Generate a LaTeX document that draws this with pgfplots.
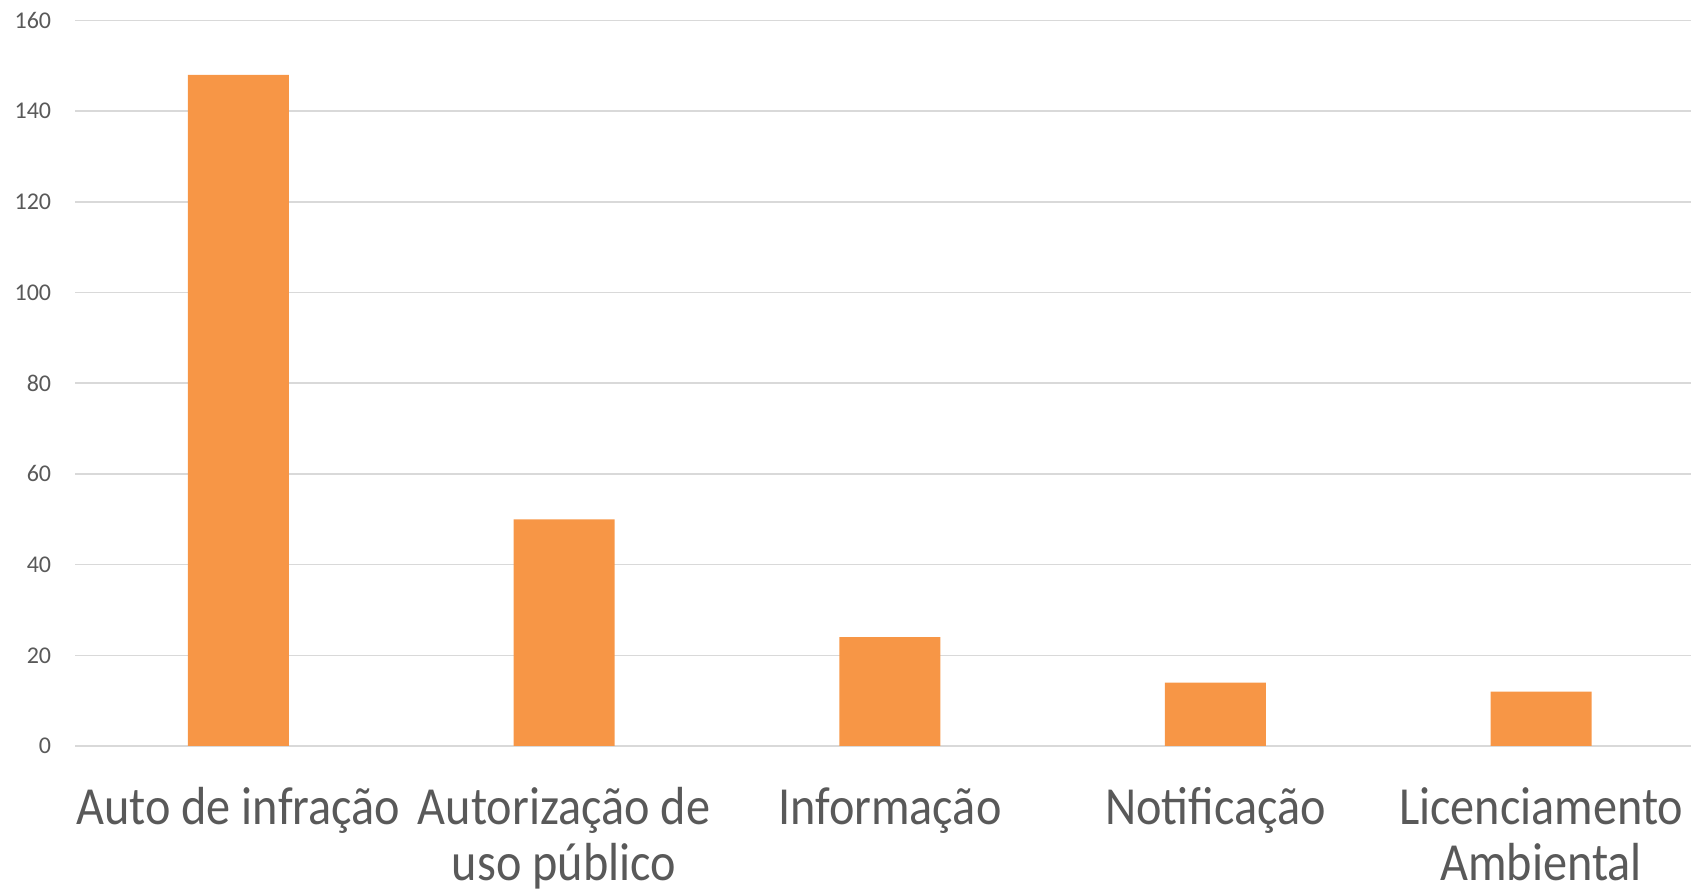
\documentclass[border=0pt]{standalone}
\usepackage{fontspec}
\setmainfont{Carlito}
\newfontfamily\catfont[FakeStretch=0.9]{Carlito}
\usepackage{pgfplots}
\pgfplotsset{compat=1.18}

\definecolor{barorange}{HTML}{F79646}
\definecolor{gridgray}{HTML}{D9D9D9}
\definecolor{textgray}{HTML}{595959}

\begin{document}
\begin{tikzpicture}
\begin{axis}[
  scale only axis,
  width=807.75pt, height=362.75pt,
  xmin=-0.5, xmax=4.46,
  ymin=0, ymax=160,
  ytick={0,20,...,160},
  xtick={0,1,2,3,4},
  xticklabels={
    {\strut Auto de infração},
    {\strut Autorização de\\uso público},
    {\strut Informação},
    {\strut Notificação},
    {\strut Licenciamento\\Ambiental}},
  axis line style={draw=none},
  major tick length=0pt,
  ymajorgrids,
  grid style={gridgray, line width=0.8pt},
  /pgf/number format/assume math mode=true,
  yticklabel style={font=\fontsize{12}{14}\selectfont, text=textgray, inner sep=0pt, xshift=-12pt},
  xticklabel style={font=\catfont\fontsize{26.8}{28}\selectfont,
    text=textgray, inner sep=0pt,
    align=center, anchor=north, yshift=-19.5pt},
  clip=false,
]
\addplot[ybar, bar width=50.5pt, fill=barorange, draw=none] coordinates {
  (0,148) (1,50) (2,24) (3,14) (4,12)
};
\coordinate (sw) at (rel axis cs:0,0);
\coordinate (ne) at (rel axis cs:1,1);
\end{axis}
\pgfresetboundingbox
\path[use as bounding box] ([xshift=-37.75pt,yshift=-73pt]sw) rectangle ([yshift=10.25pt]ne);
\end{tikzpicture}
\end{document}
